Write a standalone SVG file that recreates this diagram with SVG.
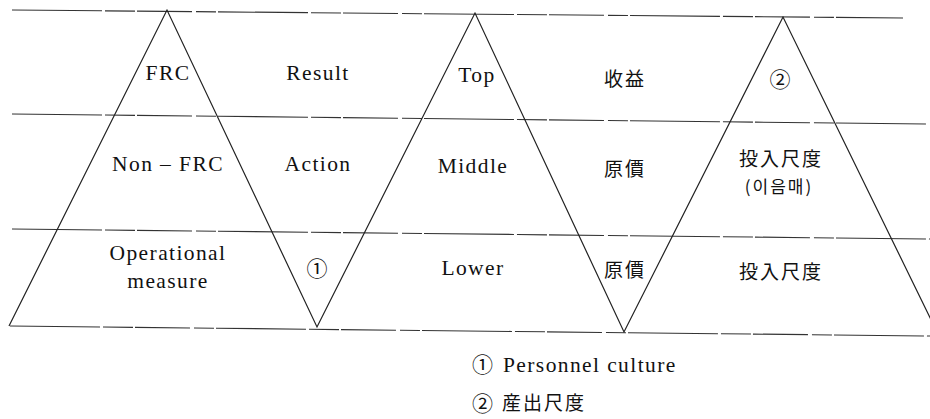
<svg xmlns="http://www.w3.org/2000/svg" width="930" height="419" viewBox="0 0 930 419">
<style>
.ln{stroke:#222;stroke-width:1.2;fill:none}
.hl{stroke:#333;stroke-width:1.1;fill:none;stroke-dasharray:90 3 30 2 55 4 20 2}
.t{font-size:21.5px;letter-spacing:1.4px;fill:#111;text-anchor:middle}
.c{font-size:19px;fill:#111;text-anchor:middle;letter-spacing:2px}
.n{font-size:21px;fill:#111;text-anchor:middle}
.k{font-size:17px;fill:#111;text-anchor:middle;letter-spacing:2px}
.l{font-size:21.5px;letter-spacing:1.4px;fill:#111}
.lc{font-size:19px;fill:#111;letter-spacing:2px}
.ln2{font-size:21px;fill:#111}
</style>
<rect width="930" height="419" fill="#fff"/>
<g id="connectors">
<line class="hl" x1="12" y1="10" x2="903" y2="18"/>
<line class="hl" x1="12" y1="114" x2="926" y2="124"/>
<line class="hl" x1="12" y1="229" x2="930" y2="239"/>
<line class="hl" x1="10" y1="326" x2="930" y2="336"/>
<polyline class="ln" points="9,326 167,10 317,327 475,13 624,332 783,17 940,338"/>
</g>
<g font-family="Liberation Serif, serif">
<g id="frc"><text class="t" x="168" y="80">FRC</text></g>
<g id="result"><text class="t" x="318" y="80">Result</text></g>
<g id="top"><text class="t" x="477" y="82">Top</text></g>
<g id="non-frc"><text class="t" x="168" y="171">Non – FRC</text></g>
<g id="action"><text class="t" x="318" y="171">Action</text></g>
<g id="middle"><text class="t" x="473" y="173">Middle</text></g>
<g id="operational"><text class="t" x="168" y="260">Operational</text><text class="t" x="168" y="288">measure</text></g>
<g id="lower"><text class="t" x="473" y="275">Lower</text></g>
<g id="legend1"><text class="l" x="503" y="372">Personnel culture</text></g>
</g>
<g font-family="Noto Sans CJK JP, sans-serif">
<g id="shueki"><text class="c" x="625" y="86">收益</text></g>
<g id="circle2"><text class="n" x="780" y="87">②</text></g>
<g id="genka1"><text class="c" x="625" y="176">原價</text></g>
<g id="input1"><text class="c" x="781" y="166">投入尺度</text><text class="k" x="779" y="193" font-family="Noto Sans CJK KR, sans-serif">(이음매)</text></g>
<g id="circle1"><text class="n" x="317" y="276">①</text></g>
<g id="genka2"><text class="c" x="625" y="277">原價</text></g>
<g id="input2"><text class="c" x="781" y="279">投入尺度</text></g>
<g id="legend2">
<text class="ln2" x="472" y="372">①</text>
<text class="ln2" x="472" y="411">②</text><text class="lc" x="502" y="410">産出尺度</text>
</g>
</g>
</svg>
